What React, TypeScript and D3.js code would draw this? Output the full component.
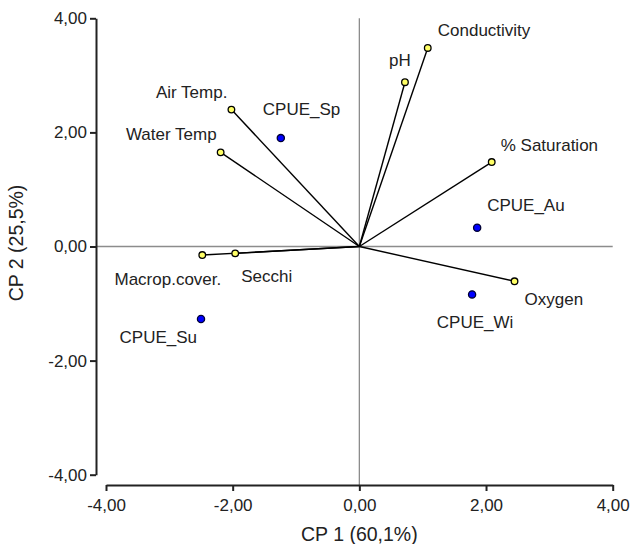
import React, { useEffect, useRef } from 'react';
import * as d3 from 'd3';

// environmental variables (loadings, drawn as vectors)
const variableNames = ['Conductivity', 'pH', '% Saturation', 'Air Temp.', 'Water Temp', 'Macrop.cover.', 'Secchi', 'Oxygen'];
const variableCp1 = [1.08, 0.72, 2.09, -2.02, -2.19, -2.48, -1.96, 2.45];
const variableCp2 = [3.48, 2.88, 1.48, 2.40, 1.65, -0.15, -0.12, -0.61];

// seasonal CPUE scores
const siteNames = ['CPUE_Sp', 'CPUE_Au', 'CPUE_Wi', 'CPUE_Su'];
const siteCp1 = [-1.24, 1.86, 1.78, -2.5];
const siteCp2 = [1.9, 0.33, -0.84, -1.27];

const axisTicks = [-4, -2, 0, 2, 4];
const xTitle = 'CP 1 (60,1%)';
const yTitle = 'CP 2 (25,5%)';

// label placement relative to each point: [anchor, dx, dy]
const labelPlacement: Record<string, [string, number, number]> = {
  'Conductivity': ['start', 10, -12],
  'pH': ['start', -16, -16],
  '% Saturation': ['start', 9, -11],
  'Air Temp.': ['end', -4, -12],
  'Water Temp': ['end', -4, -12],
  'Macrop.cover.': ['end', 19, 30],
  'Secchi': ['start', 6, 29],
  'Oxygen': ['start', 10, 24],
  'CPUE_Sp': ['start', -18, -23],
  'CPUE_Au': ['start', 10, -17],
  'CPUE_Wi': ['middle', 3, 34],
  'CPUE_Su': ['end', -4, 24],
};

const FONT = '"Liberation Sans", Arial, sans-serif';

function BiPlot() {
  const svgRef = useRef<SVGSVGElement | null>(null);

  useEffect(() => {
    const svg = d3.select(svgRef.current);
    svg.selectAll('*').remove();

    const x = d3.scaleLinear().domain([-4, 4]).range([106, 612.7]);
    const y = d3.scaleLinear().domain([-4, 4]).range([474.7, 18.3]);
    const axisLeftX = 96;
    const axisBottomY = 485;

    const locale = d3.formatLocale({ decimal: ',', thousands: '.', grouping: [3], currency: ['', ''], minus: '-' });
    const fmt = locale.format('.2f');

    // zero reference lines
    svg.append('line')
      .attr('x1', x(0)).attr('x2', x(0))
      .attr('y1', y(4)).attr('y2', axisBottomY)
      .attr('stroke', '#8c8c8c').attr('stroke-width', 1.3);
    svg.append('line')
      .attr('x1', axisLeftX).attr('x2', x(4))
      .attr('y1', y(0)).attr('y2', y(0))
      .attr('stroke', '#8c8c8c').attr('stroke-width', 1.3);

    // axes
    const gx = svg.append('g')
      .attr('transform', `translate(0,${axisBottomY})`)
      .call(d3.axisBottom(x).tickValues(axisTicks).tickFormat(d => fmt(d as number)).tickSize(6).tickSizeOuter(0).tickPadding(8));
    const gy = svg.append('g')
      .attr('transform', `translate(${axisLeftX},0)`)
      .call(d3.axisLeft(y).tickValues(axisTicks).tickFormat(d => fmt(d as number)).tickSize(6).tickSizeOuter(0).tickPadding(3));
    [gx, gy].forEach(g => {
      g.select('.domain').attr('stroke', '#222').attr('stroke-width', 2);
      g.selectAll('.tick line').attr('stroke', '#222').attr('stroke-width', 2);
      g.selectAll('.tick text').attr('fill', '#222').style('font-family', FONT).style('font-size', '17px');
    });

    // variable vectors
    const vars = variableNames.map((name, i) => ({ name, cx: variableCp1[i], cy: variableCp2[i] }));
    svg.selectAll('.vec')
      .data(vars)
      .enter().append('line')
      .attr('class', 'vec')
      .attr('x1', x(0)).attr('y1', y(0))
      .attr('x2', d => x(d.cx)).attr('y2', d => y(d.cy))
      .attr('stroke', '#000').attr('stroke-width', 1.4);
    svg.selectAll('.var-pt')
      .data(vars)
      .enter().append('circle')
      .attr('class', 'var-pt')
      .attr('cx', d => x(d.cx)).attr('cy', d => y(d.cy))
      .attr('r', 3.3)
      .attr('fill', '#ffff66').attr('stroke', '#000').attr('stroke-width', 1.3);

    // site points
    const sites = siteNames.map((name, i) => ({ name, cx: siteCp1[i], cy: siteCp2[i] }));
    svg.selectAll('.site-pt')
      .data(sites)
      .enter().append('circle')
      .attr('class', 'site-pt')
      .attr('cx', d => x(d.cx)).attr('cy', d => y(d.cy))
      .attr('r', 3.6)
      .attr('fill', '#0000ff').attr('stroke', '#000033').attr('stroke-width', 1.3);

    // labels
    svg.selectAll('.lbl')
      .data([...vars, ...sites])
      .enter().append('text')
      .attr('class', 'lbl')
      .attr('x', d => x(d.cx) + labelPlacement[d.name][1])
      .attr('y', d => y(d.cy) + labelPlacement[d.name][2])
      .attr('text-anchor', d => labelPlacement[d.name][0])
      .style('font-family', FONT).style('font-size', '17px')
      .attr('fill', '#222')
      .text(d => d.name);

    // axis titles
    svg.append('text')
      .attr('x', x(0)).attr('y', 541)
      .attr('text-anchor', 'middle')
      .style('font-family', FONT).style('font-size', '19.5px')
      .attr('fill', '#222')
      .text(xTitle);
    svg.append('text')
      .attr('transform', `translate(23,${243}) rotate(-90)`)
      .attr('text-anchor', 'middle')
      .style('font-family', FONT).style('font-size', '19.5px')
      .attr('fill', '#222')
      .text(yTitle);
  }, []);

  return (
    <svg ref={svgRef} width={632} height={544} style={{ position: 'absolute', left: 0, top: 0, background: '#fff' }}></svg>
  );
}

export default function App() {
  return <BiPlot />;
}
